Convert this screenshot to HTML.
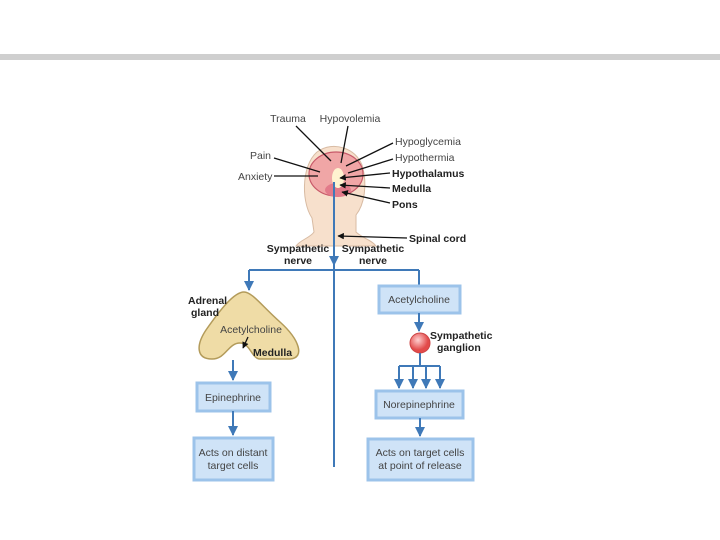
<!DOCTYPE html>
<html><head><style>
body{margin:0;background:#fff;}
svg{display:block;font-family:"Liberation Sans",Arial,sans-serif;}
.t{fill:#444;font-size:10.5px;}
.b{fill:#222;font-size:10.5px;font-weight:bold;}
.bx{fill:#cfe3f7;stroke:#9cc3ea;stroke-width:3;}
.l{stroke:#111;stroke-width:1.3;fill:none;}
.bl{stroke:#3f79b8;stroke-width:2;fill:none;}
</style></head><body>
<svg width="720" height="540" viewBox="0 0 720 540">
<defs>
<marker id="a" viewBox="0 0 10 10" refX="9" refY="5" markerWidth="5" markerHeight="5" orient="auto"><path d="M0,0L10,5L0,10z" fill="#3f79b8"/></marker>
<marker id="k" viewBox="0 0 10 10" refX="9" refY="5" markerWidth="5" markerHeight="5" orient="auto"><path d="M0,0L10,5L0,10z" fill="#111"/></marker>
<radialGradient id="g" cx="40%" cy="35%"><stop offset="0" stop-color="#ffd0d0"/><stop offset="1" stop-color="#e24a4a"/></radialGradient>
</defs>
<rect x="0" y="54" width="720" height="6" fill="#cfcfcf"/>
<!-- head -->
<path d="M312,218 C300,200 302,160 320,150 C335,142 355,148 362,165 C368,185 364,205 356,215 L356,232 C362,238 372,240 376,246 L296,246 C300,240 310,238 314,232 Z" fill="#f7e0cc" stroke="#d8bba3" stroke-width="1"/>
<ellipse cx="336" cy="174" rx="27" ry="22" fill="#f0a6a6" stroke="#c85a6a" stroke-width="1.2"/>
<ellipse cx="338" cy="190" rx="13" ry="7" fill="#e27a8a"/>
<ellipse cx="338" cy="178" rx="6" ry="10" fill="#fff3d0"/>
<!-- labels top -->
<text class="t" x="288" y="122" text-anchor="middle">Trauma</text>
<text class="t" x="350" y="122" text-anchor="middle">Hypovolemia</text>
<text class="t" x="250" y="159">Pain</text>
<text class="t" x="238" y="180">Anxiety</text>
<text class="t" x="395" y="145">Hypoglycemia</text>
<text class="t" x="395" y="161">Hypothermia</text>
<text class="b" x="392" y="177">Hypothalamus</text>
<text class="b" x="392" y="192">Medulla</text>
<text class="b" x="392" y="208">Pons</text>
<text class="b" x="409" y="242">Spinal cord</text>
<text class="b" x="298" y="252" text-anchor="middle">Sympathetic</text>
<text class="b" x="298" y="264" text-anchor="middle">nerve</text>
<text class="b" x="373" y="252" text-anchor="middle">Sympathetic</text>
<text class="b" x="373" y="264" text-anchor="middle">nerve</text>
<path class="l" d="M296,126 L331,161"/>
<path class="l" d="M348,126 L341,163"/>
<path class="l" d="M274,158 L320,172"/>
<path class="l" d="M274,176 L318,176"/>
<path class="l" d="M393,143 L346,166"/>
<path class="l" d="M393,159 L348,173"/>
<path class="l" d="M390,173 L340,178" marker-end="url(#k)"/>
<path class="l" d="M390,188 L340,185" marker-end="url(#k)"/>
<path class="l" d="M390,203 L342,192" marker-end="url(#k)"/>
<path class="l" d="M407,238 L338,236" marker-end="url(#k)"/>
<!-- blue lines -->
<path class="bl" d="M334,182 L334,265" marker-end="url(#a)"/>
<path class="bl" d="M334,265 L334,467"/>
<path class="bl" d="M249,270 L419,270"/>
<path class="bl" d="M249,270 L249,290" marker-end="url(#a)"/>
<path class="bl" d="M419,270 L419,286"/>
<!-- adrenal -->
<path d="M244,292 C252,292 262,306 280,322 C300,340 305,358 290,359 L260,359 C252,359 250,343 240,343 C228,343 226,359 212,359 C196,359 196,345 206,330 C220,310 234,292 244,292 Z" fill="#efdca6" stroke="#b39b5a" stroke-width="1.5"/>
<text class="b" x="188" y="304">Adrenal</text>
<text class="b" x="191" y="316">gland</text>
<text class="t" x="251" y="333" text-anchor="middle">Acetylcholine</text>
<text class="b" x="253" y="356">Medulla</text>
<path class="l" d="M248,337 L243,348" marker-end="url(#k)"/>
<path class="bl" d="M233,360 L233,380" marker-end="url(#a)"/>
<rect class="bx" x="197" y="383" width="73" height="28"/>
<text class="t" x="233" y="401" text-anchor="middle">Epinephrine</text>
<path class="bl" d="M233,411 L233,435" marker-end="url(#a)"/>
<rect class="bx" x="194" y="438" width="79" height="42"/>
<text class="t" x="233" y="456" text-anchor="middle">Acts on distant</text>
<text class="t" x="233" y="469" text-anchor="middle">target cells</text>
<!-- right -->
<rect class="bx" x="379" y="286" width="81" height="27"/>
<text class="t" x="419" y="303" text-anchor="middle">Acetylcholine</text>
<path class="bl" d="M419,313 L419,331" marker-end="url(#a)"/>
<circle cx="420" cy="343" r="10" fill="url(#g)" stroke="#c44" stroke-width="1"/>
<text class="b" x="430" y="339">Sympathetic</text>
<text class="b" x="437" y="351">ganglion</text>
<path class="bl" d="M420,353 L420,366 M399,366 L440,366"/>
<path class="bl" d="M399,366 L399,388" marker-end="url(#a)"/>
<path class="bl" d="M413,366 L413,388" marker-end="url(#a)"/>
<path class="bl" d="M426,366 L426,388" marker-end="url(#a)"/>
<path class="bl" d="M440,366 L440,388" marker-end="url(#a)"/>
<rect class="bx" x="376" y="391" width="87" height="27"/>
<text class="t" x="419" y="408" text-anchor="middle">Norepinephrine</text>
<path class="bl" d="M420,418 L420,436" marker-end="url(#a)"/>
<rect class="bx" x="368" y="439" width="105" height="41"/>
<text class="t" x="420" y="456" text-anchor="middle">Acts on target cells</text>
<text class="t" x="420" y="469" text-anchor="middle">at point of release</text>
</svg>
</body></html>
